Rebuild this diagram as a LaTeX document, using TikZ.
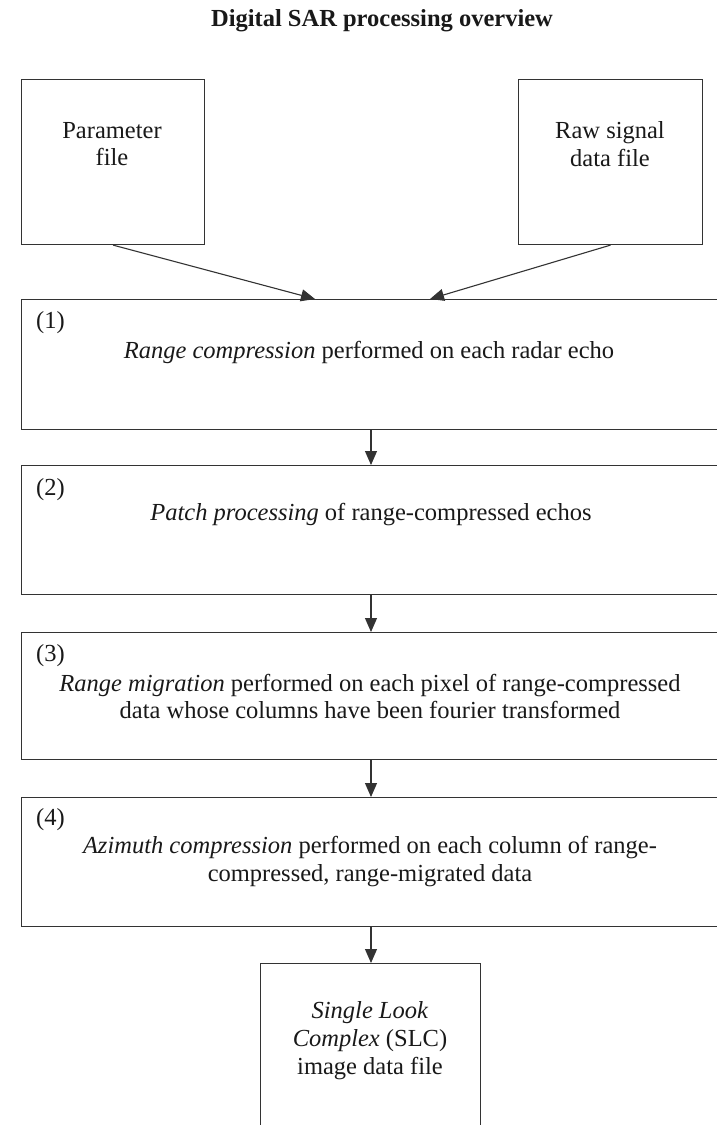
\documentclass[tikz,border=0pt]{standalone}
\usepackage{fontspec}
\setmainfont{Liberation Serif}
\usetikzlibrary{arrows.meta}
\begin{document}
\begin{tikzpicture}[x=1pt,y=-1pt,
  line/.style={draw=black!80, line width=1.1pt},
  boxnode/.style={line, rectangle, inner sep=0pt, anchor=north west},
  bodytext/.style={font=\fontsize{24.5}{27.5}\selectfont, align=center, inner sep=0pt, text=black!90},
  numtext/.style={font=\fontsize{24.5}{27.5}\selectfont, inner sep=0pt, anchor=west, text=black!90},
  arr/.style={line, -{Triangle[length=14pt,width=12pt]}}]
\useasboundingbox (0,0) rectangle (717,1125);
\clip (0,0) rectangle (717,1125);
\fill[white] (0,0) rectangle (717,1125);
% title
\node[font=\bfseries\fontsize{24.5}{28}\selectfont, inner sep=0pt, text=black!90] (title) at (382,21) {Digital SAR processing overview};
% input files
\node[boxnode, minimum width=183pt, minimum height=165pt] (param) at (21,79) {};
\node[bodytext] (paramtext) at (112,144) {Parameter\\file};
\node[boxnode, minimum width=184pt, minimum height=165pt] (raw) at (518,79) {};
\node[bodytext] (rawtext) at (610,144) {Raw signal\\data file};
% processing steps
\node[boxnode, minimum width=720pt, minimum height=130pt] (b1) at (21,299) {};
\node[numtext] (n1) at (36,323) {(1)};
\node[bodytext] (t1) at (369,352) {\textit{Range compression} performed on each radar echo};
\node[boxnode, minimum width=720pt, minimum height=129pt] (b2) at (21,465) {};
\node[numtext] (n2) at (36,490) {(2)};
\node[bodytext] (t2) at (371,515) {\textit{Patch processing} of range-compressed echos};
\node[boxnode, minimum width=720pt, minimum height=127pt] (b3) at (21,632) {};
\node[numtext] (n3) at (36,656) {(3)};
\node[bodytext] (t3) at (370,696.5) {\textit{Range migration} performed on each pixel of range-compressed\\data whose columns have been fourier transformed};
\node[boxnode, minimum width=720pt, minimum height=129pt] (b4) at (21,797) {};
\node[numtext] (n4) at (36,820) {(4)};
\node[bodytext] (t4) at (370,861.5) {\textit{Azimuth compression} performed on each column of range-\\compressed, range-migrated data};
% output
\node[boxnode, minimum width=220pt, minimum height=220pt] (slc) at (260,963) {};
\node[bodytext, font=\fontsize{24.5}{28}\selectfont] (slctext) at (370,1041) {\textit{Single Look}\\\textit{Complex} (SLC)\\image data file};
% connectors
\coordinate (in1) at (315,299);
\coordinate (in2) at (430,299);
\coordinate (vx) at (371,0);
\draw[arr] (param.south) -- (in1);
\draw[arr] (raw.south) -- (in2);
\draw[arr] (b1.south -| vx) -- (b2.north -| vx);
\draw[arr] (b2.south -| vx) -- (b3.north -| vx);
\draw[arr] (b3.south -| vx) -- (b4.north -| vx);
\draw[arr] (b4.south -| vx) -- (slc.north -| vx);
\end{tikzpicture}
\end{document}
